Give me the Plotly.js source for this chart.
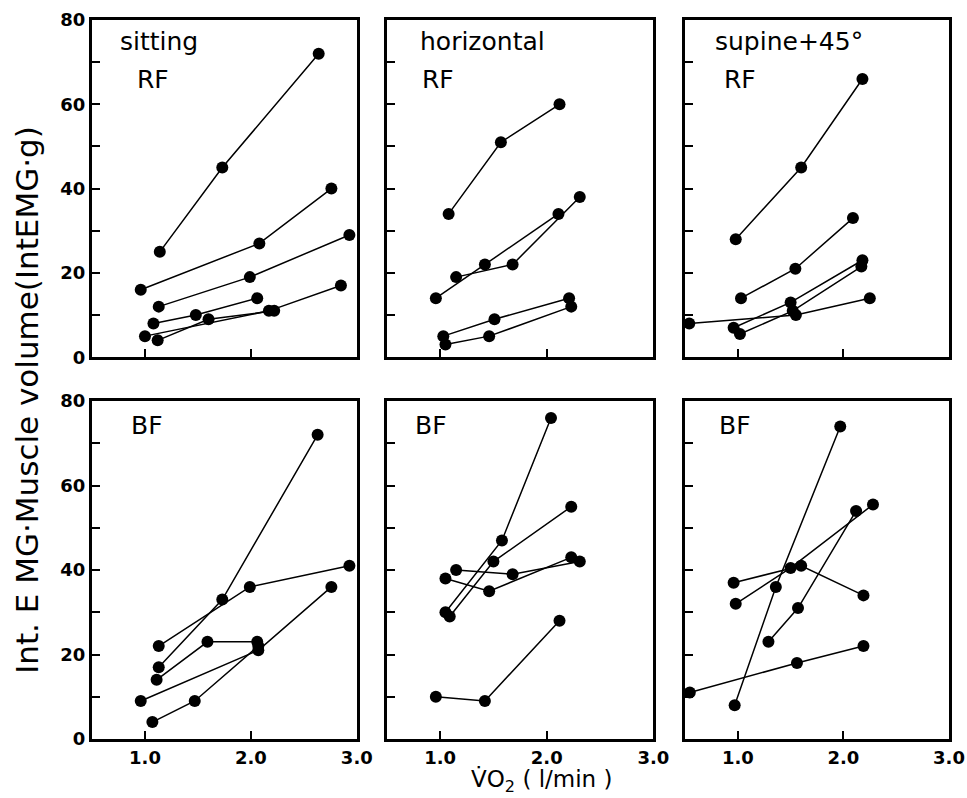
<!DOCTYPE html>
<html>
<head>
<meta charset="utf-8">
<script src="https://cdn.plot.ly/plotly-3.0.1.min.js"></script>
<style>html,body{margin:0;padding:0;background:#fff;}#chart{width:967px;height:798px;}</style>
</head>
<body>
<div id="chart"></div>
<script>
// ---- data (VO2 in l/min, Int.EMG·Muscle volume) ----
const sitRF_x = [[1.14,1.73,2.64],[0.96,2.08,2.76],[1.13,1.99,2.93],[1.08,1.48,2.06],[1.00,2.17,2.85],[1.12,1.60,2.22]];
const sitRF_y = [[25,45,72],[16,27,40],[12,19,29],[8,10,14],[5,11,17],[4,9,11]];
const horRF_x = [[1.08,1.57,2.12],[0.96,1.42,2.11],[1.15,1.68,2.31],[1.03,1.51,2.21],[1.05,1.46,2.23]];
const horRF_y = [[34,51,60],[14,22,34],[19,22,38],[5,9,14],[3,5,12]];
const supRF_x = [[0.98,1.60,2.18],[1.03,1.545,2.09],[0.54,1.55,2.25],[0.96,1.50,2.18],[1.02,1.52,2.17]];
const supRF_y = [[28,45,66],[14,21,33],[8,10,14],[7,13,23],[5.5,11,21.5]];
const sitBF_x = [[1.13,1.73,2.63],[1.13,1.99,2.93],[1.11,1.59,2.06],[0.96,2.07,2.76],[1.07,1.47,2.07]];
const sitBF_y = [[17,33,72],[22,36,41],[14,23,23],[9,21,36],[4,9,22]];
const horBF_x = [[1.05,1.58,2.04],[1.09,1.50,2.23],[1.15,1.68,2.31],[1.05,1.46,2.23],[0.96,1.42,2.12]];
const horBF_y = [[30,47,76],[29,42,55],[40,39,42],[38,35,43],[10,9,28]];
const supBF_x = [[0.97,1.36,1.97],[0.96,1.60,2.19],[0.98,1.50,2.28],[1.29,1.57,2.12],[0.545,1.56,2.19]];
const supBF_y = [[8,36,74],[37,41,34],[32,40.5,55.5],[23,31,54],[11,18,22]];

const panelTitles = ["sitting","horizontal","supine+45°"];
const muscleLabels = ["RF","BF"];
const xTickVals = [1,2,3];
const xTickText = ["1.0","2.0","3.0"];
const yTickVals = [0,20,40,60,80];
const yTickText = ["0","20","40","60","80"];
const yTitle = "Int. E MG·Muscle volume(IntEMG·g)";
const xTitle = "V̇O<sub>2</sub> ( l/min )";

const panels = [
  {xs: sitRF_x, ys: sitRF_y}, {xs: horRF_x, ys: horRF_y}, {xs: supRF_x, ys: supRF_y},
  {xs: sitBF_x, ys: sitBF_y}, {xs: horBF_x, ys: horBF_y}, {xs: supBF_x, ys: supBF_y}
];

const traces = [];
panels.forEach((p, i) => {
  const ax = i === 0 ? '' : String(i + 1);
  p.xs.forEach((xv, j) => {
    traces.push({
      x: xv, y: p.ys[j], type: 'scatter', mode: 'lines+markers',
      xaxis: 'x' + ax, yaxis: 'y' + ax, cliponaxis: false, showlegend: false,
      line: {color: '#000', width: 1.5},
      marker: {color: '#000', size: 12}
    });
  });
});

const colDom = [[0, 0.309], [0.344, 0.655], [0.692, 1]];
const rowDom = [[0.531, 1], [0, 0.470]];
const tickFont = {family: 'DejaVu Sans', size: 18, color: '#000', weight: 'bold'};

const layout = {
  width: 967, height: 798,
  margin: {l: 92, r: 18, t: 20, b: 59},
  paper_bgcolor: '#fff', plot_bgcolor: '#fff',
  showlegend: false,
  annotations: []
};

for (let i = 0; i < 6; i++) {
  const r = Math.floor(i / 3), c = i % 3;
  const ax = i === 0 ? '' : String(i + 1);
  layout['xaxis' + ax] = {
    domain: colDom[c], anchor: 'y' + ax, range: [0.5, 3.0],
    showgrid: false, zeroline: false, showline: true, mirror: true,
    linecolor: '#000', linewidth: 3,
    ticks: 'inside', ticklen: 8, tickwidth: 2, tickcolor: '#000',
    tickvals: xTickVals, ticktext: xTickText,
    showticklabels: r === 1, tickfont: tickFont
  };
  layout['yaxis' + ax] = {
    domain: rowDom[r], anchor: 'x' + ax, range: [0, 80],
    showgrid: false, zeroline: false, showline: true, mirror: true,
    linecolor: '#000', linewidth: 3,
    ticks: 'inside', ticklen: 8, tickwidth: 2, tickcolor: '#000',
    tickvals: yTickVals, ticktext: yTickText,
    minor: {dtick: 10, ticks: 'inside', ticklen: 8, tickwidth: 2, tickcolor: '#000', showgrid: false},
    showticklabels: c === 0, tickfont: tickFont
  };
  const lblFont = {family: 'DejaVu Sans', size: 25, color: '#000'};
  if (r === 0) {
    const tx = [0.098, 0.117, 0.106][c];
    const mx = [0.162, 0.125, 0.14][c];
    layout.annotations.push({text: panelTitles[c], xref: 'x' + ax + ' domain', yref: 'y' + ax + ' domain',
      x: tx, y: 0.935, xanchor: 'left', yanchor: 'middle', showarrow: false, font: lblFont});
    layout.annotations.push({text: muscleLabels[0], xref: 'x' + ax + ' domain', yref: 'y' + ax + ' domain',
      x: mx, y: 0.825, xanchor: 'left', yanchor: 'middle', showarrow: false, font: lblFont});
  } else {
    const mx = [0.14, 0.098, 0.12][c];
    layout.annotations.push({text: muscleLabels[1], xref: 'x' + ax + ' domain', yref: 'y' + ax + ' domain',
      x: mx, y: 0.929, xanchor: 'left', yanchor: 'middle', showarrow: false, font: lblFont});
  }
}

layout.annotations.push({text: yTitle, xref: 'paper', yref: 'paper', x: -0.076, y: 0.4715,
  xanchor: 'center', yanchor: 'middle', textangle: -90, showarrow: false,
  font: {family: 'DejaVu Sans', size: 31, color: '#000'}});
layout.annotations.push({text: xTitle, xref: 'paper', yref: 'paper', x: 0.524, y: -0.058,
  xanchor: 'center', yanchor: 'middle', showarrow: false,
  font: {family: 'DejaVu Sans', size: 23, color: '#000'}});

Plotly.newPlot('chart', traces, layout, {staticPlot: true, displayModeBar: false});
</script>
</body>
</html>
